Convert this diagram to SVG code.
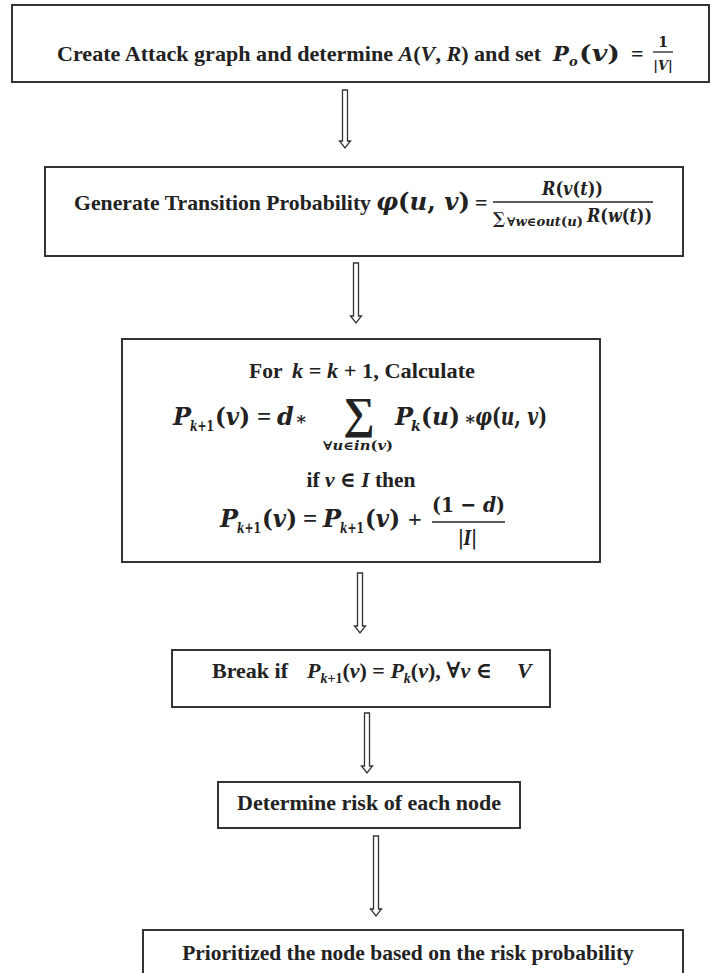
<svg xmlns="http://www.w3.org/2000/svg" width="710" height="973" viewBox="0 0 710 973">
<style>
.box{fill:#fff;stroke:#333;stroke-width:2}
.t{font-family:"Liberation Serif","Times New Roman","DejaVu Serif",serif;font-weight:bold;fill:#222}
.mu{font-family:"DejaVu Serif","Liberation Serif",serif;font-weight:bold;fill:#222}
.m{font-family:"DejaVu Serif","Liberation Serif",serif;font-weight:bold;font-style:italic;fill:#222}
.i{font-style:italic}
.arr{fill:#fff;stroke:#333;stroke-width:1.3}
.bar{stroke:#222;stroke-width:1.3}
</style>
<rect width="710" height="973" fill="#fff"/>
<g id="connectors">
<path class="arr" d="M342.5,90 L342.5,141 L339.5,141 L345,148 L350.5,141 L347.5,141 L347.5,90 Z"/>
<path class="arr" d="M353.5,263 L353.5,316 L350.5,316 L356,323 L361.5,316 L358.5,316 L358.5,263 Z"/>
<path class="arr" d="M357.5,573 L357.5,626 L354.5,626 L360,633 L365.5,626 L362.5,626 L362.5,573 Z"/>
<path class="arr" d="M364.5,713 L364.5,766 L361.5,766 L367,773 L372.5,766 L369.5,766 L369.5,713 Z"/>
<path class="arr" d="M373.5,836 L373.5,909 L370.5,909 L376,916 L381.5,909 L378.5,909 L378.5,836 Z"/>
</g>
<g id="node1">
<rect class="box" x="12" y="5" width="697" height="77"/>
<text class="t" x="57" y="61" font-size="22" textLength="484" lengthAdjust="spacingAndGlyphs">Create Attack graph and determine <tspan class="i">A</tspan>(<tspan class="i">V</tspan>, <tspan class="i">R</tspan>) and set</text>
<text class="m" x="553" y="61" font-size="21">P</text>
<text class="m" x="569" y="66" font-size="13">o</text>
<text class="mu" x="579" y="61" font-size="23" textLength="41" lengthAdjust="spacingAndGlyphs">(<tspan class="i">v</tspan>)</text>
<text class="t" x="631" y="61" font-size="22">=</text>
<text class="mu" x="663" y="47" font-size="14" text-anchor="middle">1</text>
<line class="bar" x1="653" y1="52" x2="673" y2="52"/>
<text class="mu" x="663" y="70" font-size="13" text-anchor="middle">|<tspan class="i">V</tspan>|</text>
</g>
<g id="node2">
<rect class="box" x="45" y="167" width="638" height="89"/>
<text class="t" x="74" y="210" font-size="21.5" textLength="297" lengthAdjust="spacingAndGlyphs">Generate Transition Probability</text>
<text class="mu" x="376" y="210" font-size="25" textLength="94" lengthAdjust="spacingAndGlyphs"><tspan class="i">φ</tspan>(<tspan class="i">u</tspan>, <tspan class="i">v</tspan>)</text>
<text class="t" x="475" y="210" font-size="22">=</text>
<text class="mu" x="542" y="195" font-size="18" textLength="61" lengthAdjust="spacingAndGlyphs"><tspan class="i">R</tspan>(<tspan class="i">v</tspan>(<tspan class="i">t</tspan>))</text>
<line class="bar" x1="493" y1="202" x2="653" y2="202"/>
<text class="mu" x="493" y="224" font-size="16">∑</text>
<text class="mu" x="507" y="226" font-size="12" textLength="76" lengthAdjust="spacingAndGlyphs">∀<tspan class="i">w</tspan>∈<tspan class="i">out</tspan>(<tspan class="i">u</tspan>)</text>
<text class="mu" x="587" y="222" font-size="18" textLength="65" lengthAdjust="spacingAndGlyphs"><tspan class="i">R</tspan>(<tspan class="i">w</tspan>(<tspan class="i">t</tspan>))</text>
</g>
<g id="node3">
<rect class="box" x="122" y="339" width="478" height="223"/>
<text class="t" x="249" y="378" font-size="21.5">For</text>
<text class="t" x="292" y="378" font-size="21.5" textLength="183" lengthAdjust="spacingAndGlyphs"><tspan class="i">k</tspan> = <tspan class="i">k</tspan> + 1, Calculate</text>
<text class="m" x="173" y="425" font-size="24">P</text>
<text class="m" x="190" y="431" font-size="14" textLength="24" lengthAdjust="spacingAndGlyphs">k<tspan font-style="normal">+1</tspan></text>
<text class="mu" x="215" y="425" font-size="24" textLength="35" lengthAdjust="spacingAndGlyphs">(<tspan class="i">v</tspan>)</text>
<text class="t" x="257" y="425" font-size="25">=</text>
<text class="m" x="277" y="425" font-size="24">d</text>
<text class="t" x="295" y="425" font-size="18">∗</text>
<text class="t" x="359" y="428" font-size="44" text-anchor="middle">∑</text>
<text class="mu" x="323" y="450" font-size="12" textLength="70" lengthAdjust="spacingAndGlyphs">∀<tspan class="i">u</tspan>∈<tspan class="i">in</tspan>(<tspan class="i">v</tspan>)</text>
<text class="m" x="395" y="425" font-size="24">P</text>
<text class="m" x="411" y="431" font-size="14">k</text>
<text class="mu" x="421" y="425" font-size="24" textLength="39" lengthAdjust="spacingAndGlyphs">(<tspan class="i">u</tspan>)</text>
<text class="t" x="464" y="425" font-size="18">∗</text>
<text class="mu" x="475" y="425" font-size="24" textLength="72" lengthAdjust="spacingAndGlyphs"><tspan class="i">φ</tspan>(<tspan class="i">u</tspan>, <tspan class="i">v</tspan>)</text>
<text class="t" x="361" y="487" font-size="21.5" text-anchor="middle">if <tspan class="i">v</tspan> ∈ <tspan class="i">I</tspan> then</text>
<text class="m" x="220" y="527" font-size="24">P</text>
<text class="m" x="237" y="533" font-size="14" textLength="24" lengthAdjust="spacingAndGlyphs">k<tspan font-style="normal">+1</tspan></text>
<text class="mu" x="262" y="527" font-size="24" textLength="35" lengthAdjust="spacingAndGlyphs">(<tspan class="i">v</tspan>)</text>
<text class="t" x="303" y="527" font-size="25">=</text>
<text class="m" x="323" y="527" font-size="24">P</text>
<text class="m" x="340" y="533" font-size="14" textLength="24" lengthAdjust="spacingAndGlyphs">k<tspan font-style="normal">+1</tspan></text>
<text class="mu" x="365" y="527" font-size="24" textLength="35" lengthAdjust="spacingAndGlyphs">(<tspan class="i">v</tspan>)</text>
<text class="t" x="408" y="527" font-size="24">+</text>
<text class="mu" x="432" y="512" font-size="21" textLength="73" lengthAdjust="spacingAndGlyphs">(1 − <tspan class="i">d</tspan>)</text>
<line class="bar" x1="432" y1="522" x2="505" y2="522"/>
<text class="mu" x="458" y="545" font-size="21" textLength="19" lengthAdjust="spacingAndGlyphs">|<tspan class="i">I</tspan>|</text>
</g>
<g id="node4">
<rect class="box" x="172" y="650" width="378" height="57"/>
<text class="t" y="678" font-size="22"><tspan x="212">Break if </tspan><tspan x="307" class="i">P</tspan><tspan class="i" font-size="14" dy="5">k</tspan><tspan font-size="14">+1</tspan><tspan dy="-5">(<tspan class="i">v</tspan>) = </tspan><tspan class="i">P</tspan><tspan class="i" font-size="14" dy="5">k</tspan><tspan dy="-5">(<tspan class="i">v</tspan>), ∀<tspan class="i">v</tspan> ∈</tspan><tspan x="517" class="i">V</tspan></text>
</g>
<g id="node5">
<rect class="box" x="218" y="782" width="302" height="46"/>
<text class="t" x="369" y="810" font-size="22" text-anchor="middle">Determine risk of each node</text>
</g>
<g id="node6">
<rect class="box" x="143" y="930" width="540" height="60"/>
<text class="t" x="408" y="960" font-size="21.5" text-anchor="middle">Prioritized the node based on the risk probability</text>
</g>
</svg>
